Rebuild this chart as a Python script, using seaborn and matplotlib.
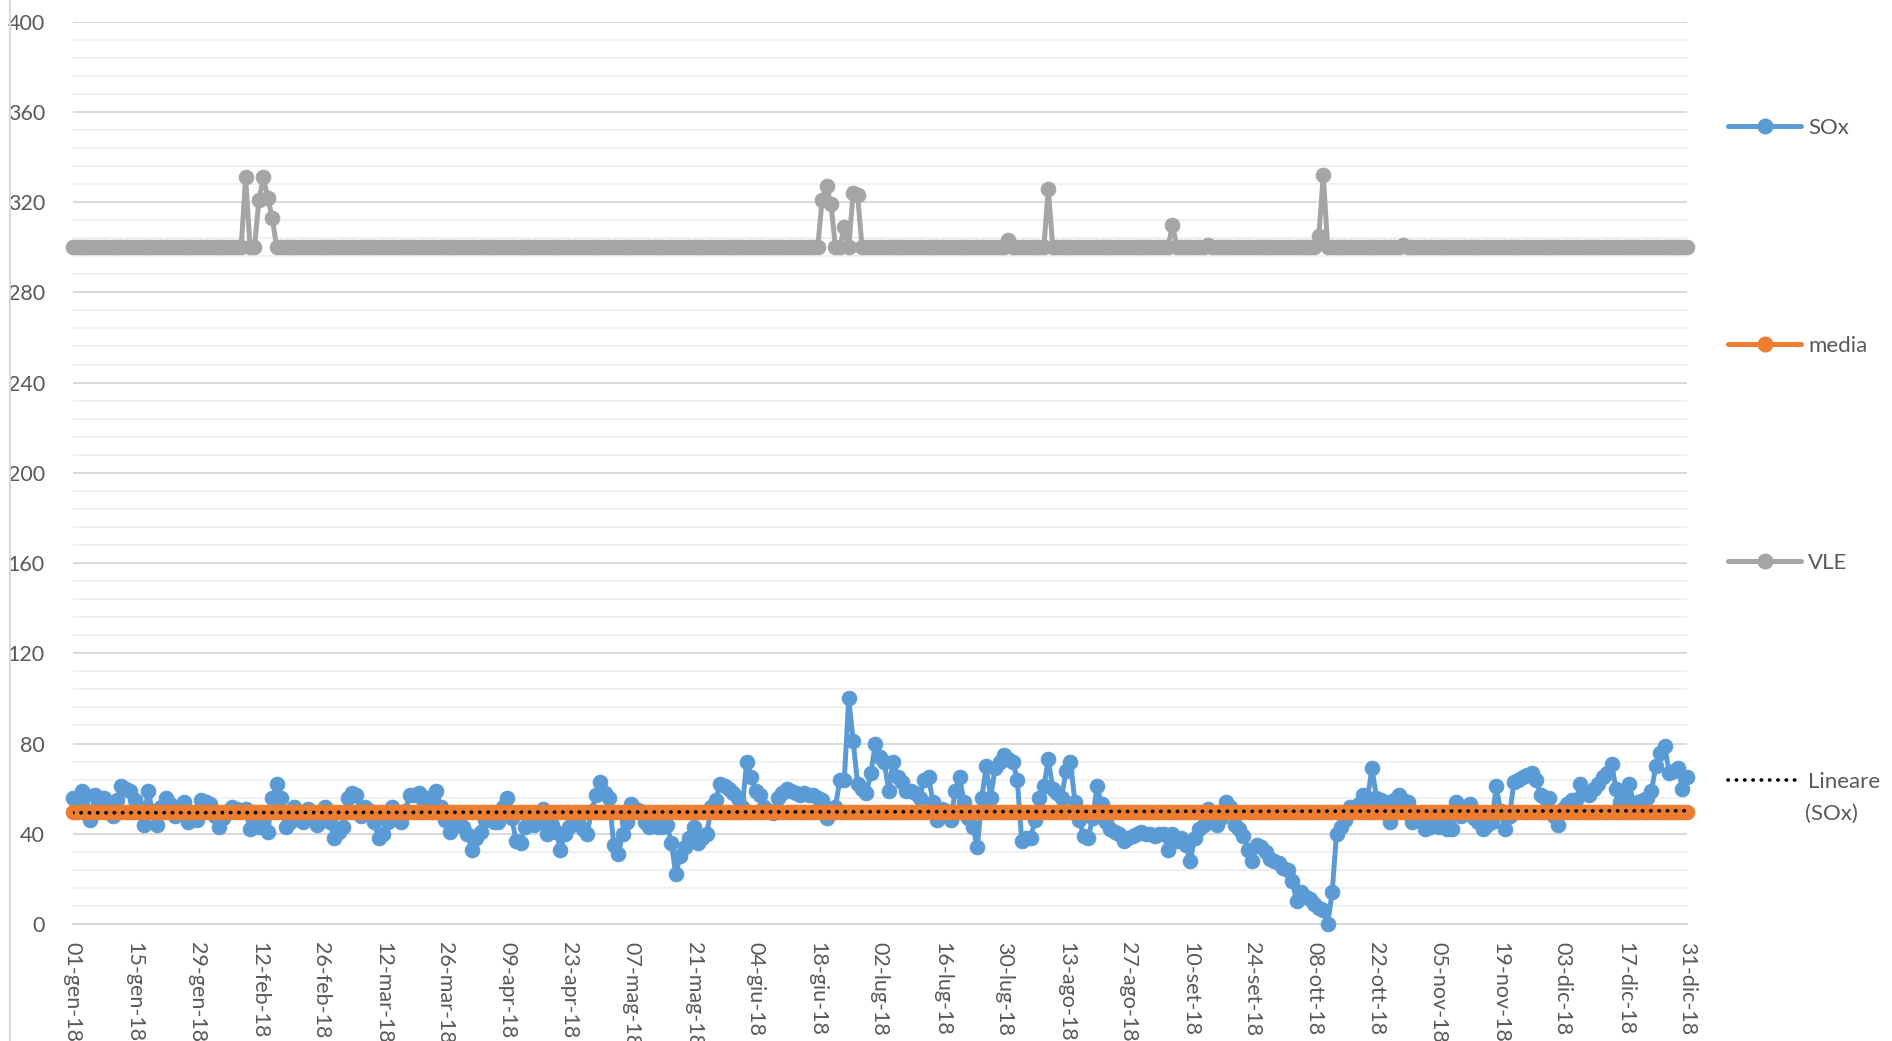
import matplotlib.pyplot as plt
import numpy as np
import pandas as pd
import seaborn as sns
from matplotlib.lines import Line2D

# daily SOx values, 01-gen-18 .. 31-dic-18
SOX = [
    56, 53, 59, 57, 46, 57, 55, 56, 52, 48, 55, 61, 60, 59,
    55, 52, 44, 59, 50, 44, 52, 56, 53, 48, 50, 54, 45, 47,
    46, 55, 54, 53, 48, 43, 47, 50, 52, 51, 50, 51, 42, 46,
    43, 44, 41, 56, 62, 56, 43, 45, 52, 47, 45, 51, 48, 44,
    48, 52, 45, 38, 41, 43, 56, 58, 57, 48, 52, 50, 45, 38,
    40, 45, 52, 49, 45, 50, 57, 57, 58, 55, 56, 56, 59, 52,
    46, 41, 44, 46, 43, 40, 33, 38, 41, 46, 47, 45, 45, 52,
    56, 47, 37, 36, 43, 46, 44, 45, 51, 40, 44, 41, 33, 40,
    43, 46, 45, 42, 40, 50, 57, 63, 58, 56, 35, 31, 40, 45,
    53, 51, 50, 45, 43, 44, 43, 43, 44, 36, 22, 30, 34, 38,
    43, 36, 38, 40, 52, 55, 62, 61, 60, 58, 56, 52, 72, 65,
    59, 57, 52, 50, 49, 56, 58, 60, 59, 58, 57, 58, 57, 57,
    56, 55, 47, 51, 52, 64, 64, 100, 81, 62, 60, 58, 67, 80,
    74, 72, 59, 72, 65, 63, 59, 59, 58, 56, 64, 65, 54, 46,
    51, 50, 46, 59, 65, 54, 47, 43, 34, 56, 70, 56, 69, 72,
    75, 73, 72, 64, 37, 38, 38, 46, 56, 61, 73, 60, 58, 56,
    68, 72, 54, 46, 39, 38, 47, 61, 53, 45, 42, 41, 40, 37,
    38, 39, 40, 41, 40, 40, 39, 40, 40, 33, 40, 37, 38, 35,
    28, 38, 42, 44, 51, 47, 44, 47, 54, 52, 44, 42, 39, 33,
    28, 35, 34, 32, 29, 28, 27, 25, 24, 19, 10, 14, 12, 11,
    9, 7, 6, 0, 14, 40, 43, 46, 52, 51, 53, 57, 56, 69,
    56, 55, 54, 45, 55, 57, 55, 54, 45, 48, 46, 42, 43, 44,
    43, 45, 42, 42, 54, 48, 52, 53, 47, 45, 42, 44, 45, 61,
    50, 42, 48, 63, 64, 65, 66, 67, 64, 57, 56, 56, 48, 44,
    51, 53, 55, 55, 62, 58, 57, 60, 62, 65, 67, 71, 60, 54,
    58, 62, 53, 54, 55, 56, 59, 70, 76, 79, 67, 68, 69, 60, 65,
]
MEDIA_VALUE = 49.5

VLE_BASE = 300
VLE_SPIKE_DAYS = [39, 42, 43, 44, 45, 169, 170, 171, 174, 176, 177,
                  211, 220, 248, 256, 281, 282, 300]
VLE_SPIKE_VALUES = [331, 321, 331, 322, 313, 321, 327, 319, 309, 324, 323,
                    303, 326, 310, 301, 305, 332, 301]

TICK_LABELS = ['01-gen-18', '15-gen-18', '29-gen-18', '12-feb-18', '26-feb-18',
               '12-mar-18', '26-mar-18', '09-apr-18', '23-apr-18', '07-mag-18',
               '21-mag-18', '04-giu-18', '18-giu-18', '02-lug-18', '16-lug-18',
               '30-lug-18', '13-ago-18', '27-ago-18', '10-set-18', '24-set-18',
               '08-ott-18', '22-ott-18', '05-nov-18', '19-nov-18', '03-dic-18',
               '17-dic-18', '31-dic-18']

BLUE = '#5B9BD5'
ORANGE = '#ED7D31'
GRAY = '#A5A5A5'
TEXT = '#595959'
GRID = '#D9D9D9'

MS = 10.5
LW = 3.6


def build_frame():
    days = np.arange(len(SOX))
    vle = np.full(len(SOX), VLE_BASE, dtype=float)
    vle[VLE_SPIKE_DAYS] = VLE_SPIKE_VALUES
    return pd.DataFrame({'giorno': days, 'SOx': SOX,
                         'media': MEDIA_VALUE, 'VLE': vle})


def main():
    df = build_frame()

    sns.set_theme(style='white')
    plt.rcParams['font.family'] = ['Lato', 'DejaVu Sans']

    fig = plt.figure(figsize=(18.92, 10.41), dpi=100)
    ax = fig.add_axes([0.0384, 0.1124, 0.8532, 0.8668])

    style = dict(marker='o', markersize=MS, linewidth=LW, clip_on=False,
                 estimator=None, ax=ax)
    for col, color, z in [('SOx', BLUE, 3), ('media', ORANGE, 4), ('VLE', GRAY, 5)]:
        sns.lineplot(data=df, x='giorno', y=col, color=color,
                     markeredgecolor=color, zorder=z, **style)
    sns.regplot(data=df, x='giorno', y='SOx', scatter=False, ci=None, ax=ax,
                line_kws=dict(color='black', linestyle=(0, (0.1, 2.2)),
                              linewidth=2.6, dash_capstyle='round', zorder=6))

    ax.set_xlim(0, len(SOX) - 1)
    ax.set_ylim(0, 400)
    ax.set_xlabel('')
    ax.set_ylabel('')
    ax.set_yticks(range(0, 401, 40))
    ax.set_yticks(range(0, 401, 8), minor=True)
    ax.grid(which='major', axis='y', color=GRID, linewidth=1.4)
    ax.grid(which='minor', axis='y', color='#F0F0F0', linewidth=1.4)
    ax.set_axisbelow(True)

    ax.set_xticks(range(0, len(SOX), 14))
    ax.set_xticklabels(TICK_LABELS, rotation=-90, ha='center', va='top')
    ax.tick_params(axis='x', length=6, width=1.3, color=GRID, pad=7,
                   labelsize=15.5, labelcolor=TEXT)
    ax.tick_params(axis='y', which='both', length=0, pad=20,
                   labelsize=15.5, labelcolor=TEXT)

    for side in ['top', 'right', 'left']:
        ax.spines[side].set_visible(False)
    ax.spines['bottom'].set_color(GRID)
    ax.spines['bottom'].set_linewidth(1.4)

    # chart border left edge
    fig.add_artist(Line2D([10 / 1892, 10 / 1892], [0, 1], color=GRID,
                          linewidth=1.5, transform=fig.transFigure))

    entries = [
        (Line2D([], [], color=BLUE, marker='o', markersize=MS, linewidth=LW), 'SOx', 0.877),
        (Line2D([], [], color=ORANGE, marker='o', markersize=MS, linewidth=LW), 'media', 0.668),
        (Line2D([], [], color=GRAY, marker='o', markersize=MS, linewidth=LW), 'VLE', 0.459),
        (Line2D([], [], color='black', linestyle=(0, (0.1, 2.2)), linewidth=2.6,
                dash_capstyle='round'), 'Lineare', 0.249),
    ]
    for handle, label, y in entries:
        fig.legend([handle], [label], loc='center left', bbox_to_anchor=(0.9133, y),
                   frameon=False, borderpad=0, borderaxespad=0, handlelength=3.3,
                   handletextpad=0.3, fontsize=16, labelcolor=TEXT)
    # second line of the trendline label
    fig.text(0.9541, 0.218, '(SOx)', fontsize=16, color=TEXT, va='center', ha='left')

    fig.savefig('out.png', dpi=100)


if __name__ == '__main__':
    main()
